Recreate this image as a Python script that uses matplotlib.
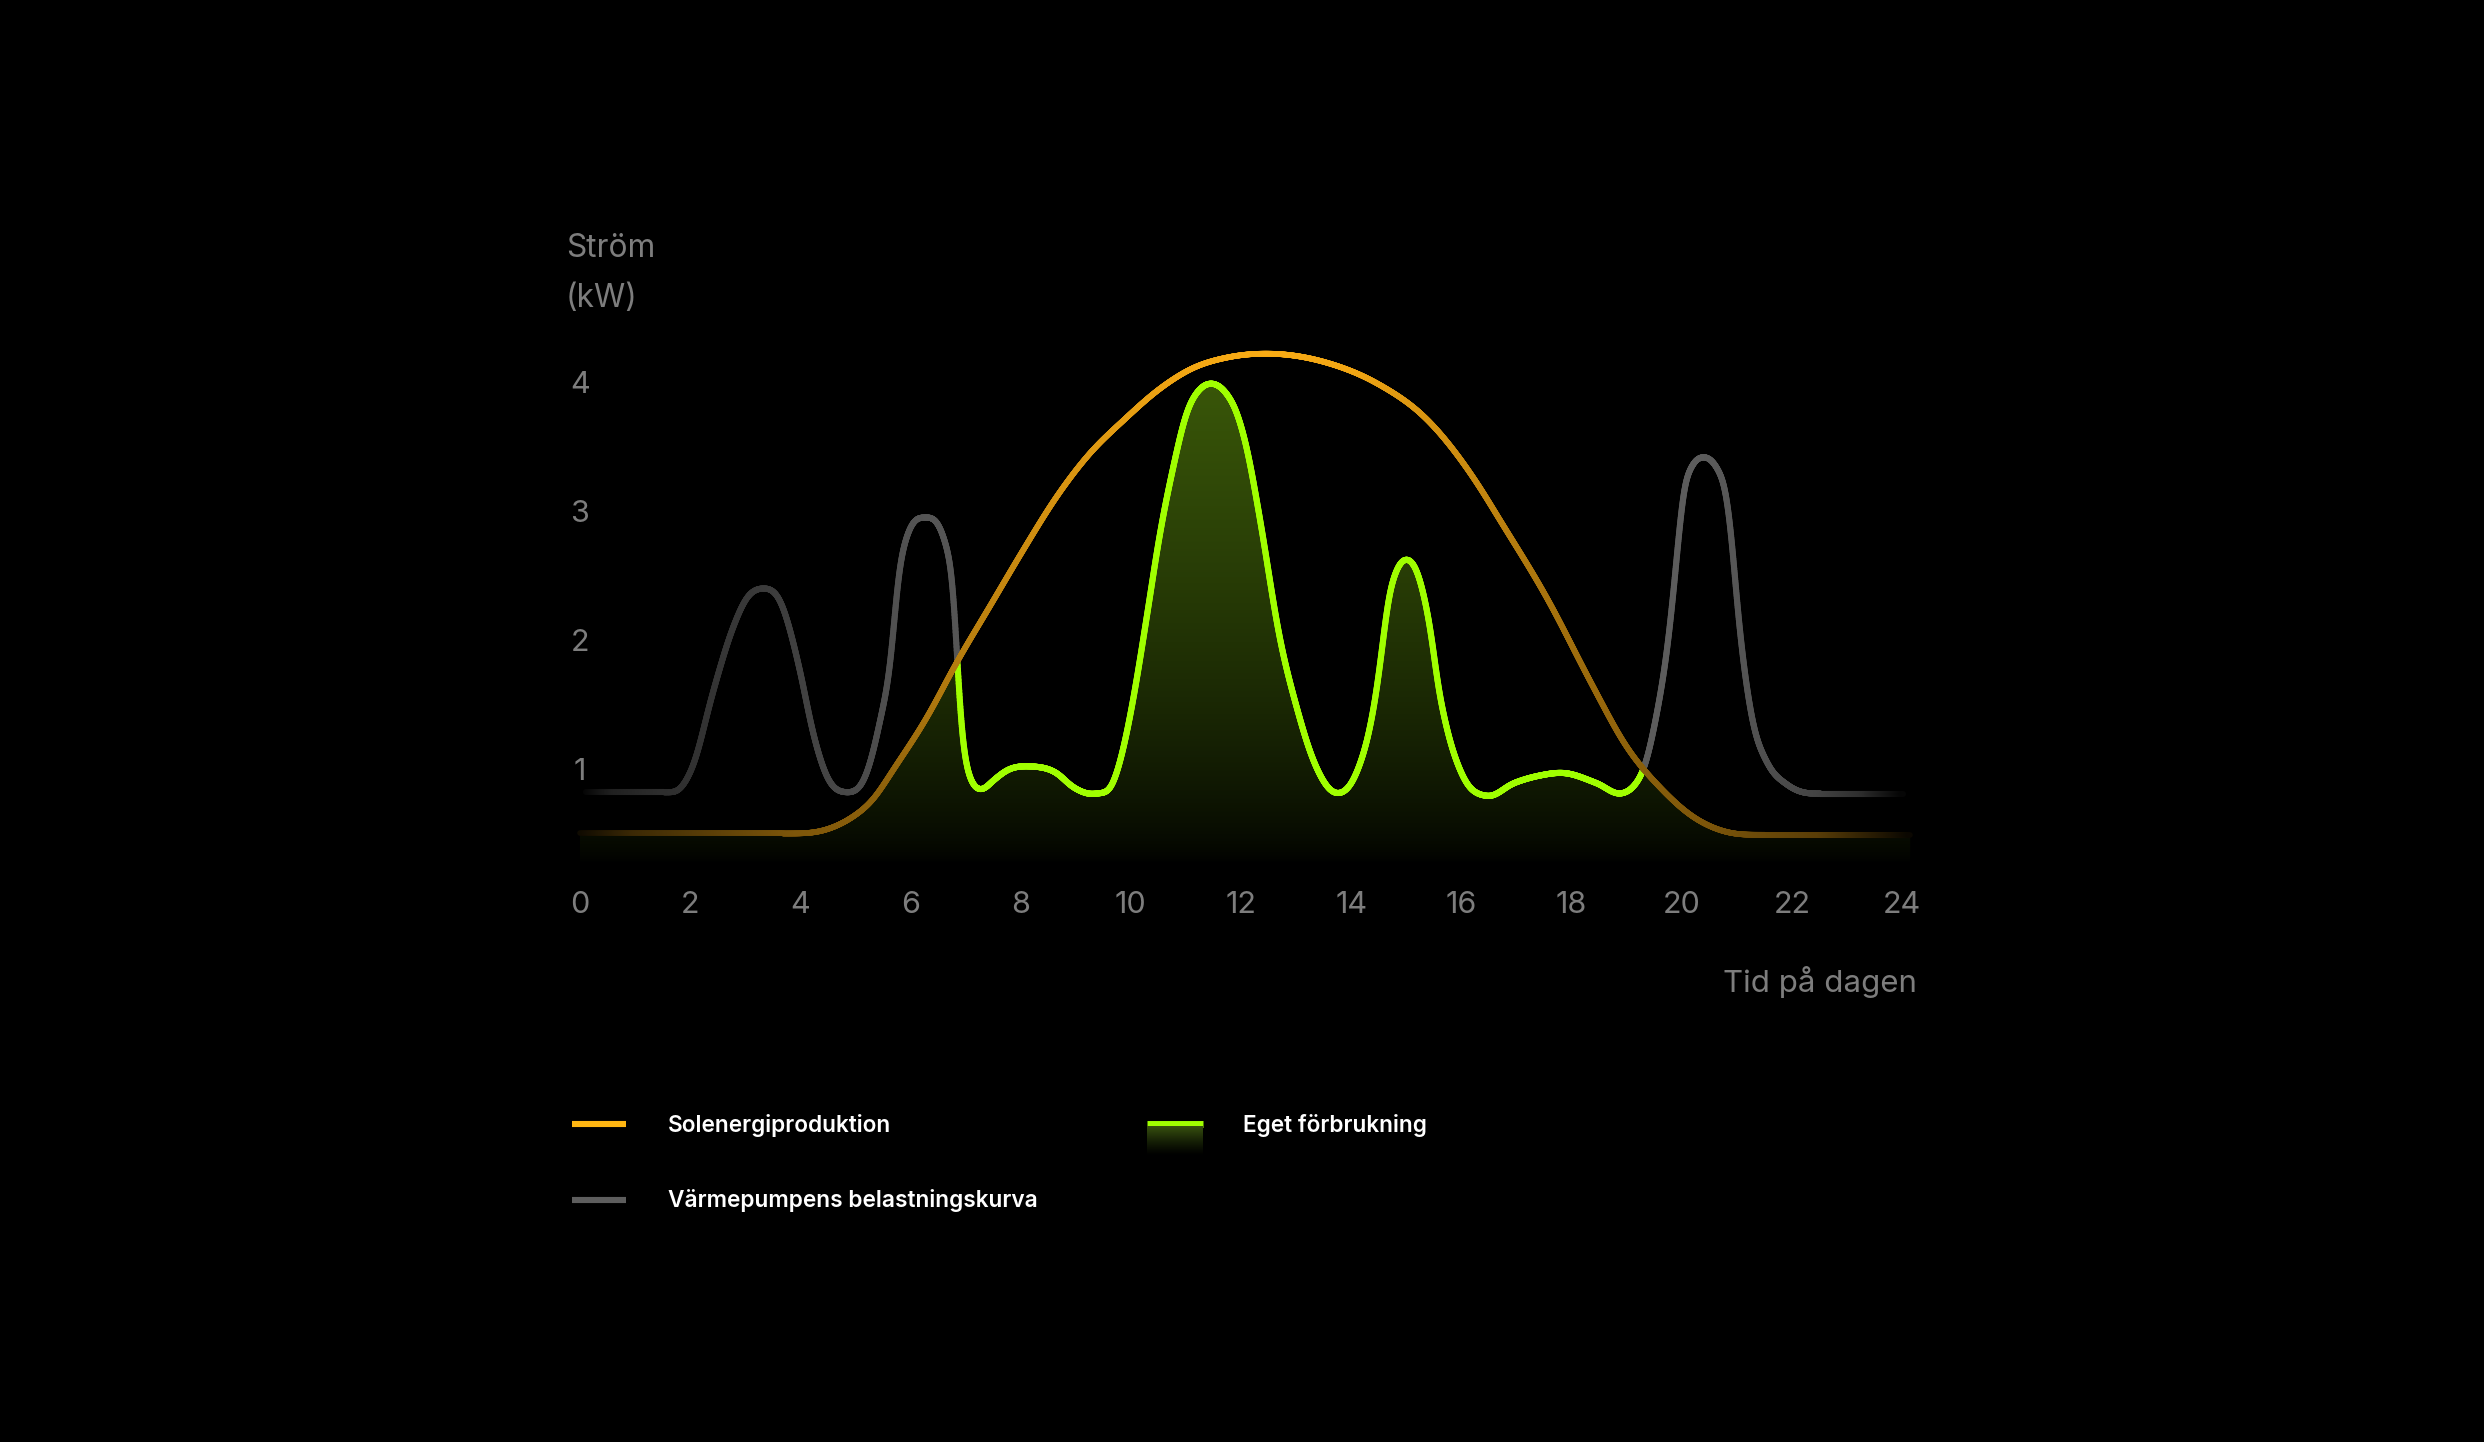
import numpy as np
import matplotlib
matplotlib.use('Agg')
import matplotlib.pyplot as plt
from matplotlib.collections import LineCollection
from matplotlib.patches import PathPatch
from matplotlib.path import Path
from matplotlib.colors import to_rgb

# Solenergiproduktion (kW)
sol_timmar = [0.0, 2.0, 3.87, 4.48, 4.96, 5.32, 5.68, 6.30, 6.83, 7.44, 8.05, 8.65,
              9.26, 9.86, 10.53, 11.13, 11.74, 12.53, 13.56, 14.47, 15.38, 16.28,
              16.70, 17.55, 18.39, 19.0, 19.6, 20.2, 20.82, 21.3, 22.5, 24.15]
sol_kw = [0.50, 0.50, 0.50, 0.53, 0.63, 0.76, 0.99, 1.40, 1.82, 2.26, 2.70, 3.11,
          3.45, 3.70, 3.95, 4.11, 4.19, 4.22, 4.15, 3.99, 3.71, 3.22,
          2.93, 2.33, 1.64, 1.17, 0.86, 0.63, 0.51, 0.49, 0.49, 0.49]

# Värmepumpens belastningskurva (kW)
last_timmar = [0.1, 1.0, 1.69, 2.05, 2.41, 2.78, 3.03, 3.30, 3.63, 3.99, 4.23, 4.48,
               4.81, 5.21, 5.45, 5.66, 5.72, 5.77, 5.85, 5.99, 6.26, 6.54, 6.68,
               6.77, 6.81, 6.84, 6.90, 6.99, 7.12, 7.30, 7.50, 7.75, 8.20, 8.65,
               8.95, 9.38, 9.68, 9.86, 10.04, 10.29, 10.53, 10.77, 11.01, 11.26,
               11.47, 11.74, 11.91, 12.10, 12.34, 12.71, 13.01, 13.31, 13.74, 14.10,
               14.38, 14.49, 14.58, 14.67, 14.80, 15.01, 15.21, 15.34, 15.47, 15.56,
               15.70, 16.03, 16.47, 16.95, 17.43, 17.85, 18.46, 18.92, 19.12, 19.33,
               19.55, 19.73, 19.85, 19.91, 19.97, 20.03, 20.15, 20.41, 20.66, 20.80,
               20.88, 20.94, 20.99, 21.10, 21.28, 21.55, 21.91, 22.39, 23.0, 24.02]
last_kw = [0.82, 0.82, 0.82, 1.02, 1.59, 2.10, 2.33, 2.40, 2.31, 1.77, 1.28, 0.94,
           0.82, 0.97, 1.38, 1.91, 2.22, 2.48, 2.68, 2.87, 2.95, 2.87, 2.68,
           2.48, 2.22, 1.91, 1.41, 1.07, 0.89, 0.84, 0.91, 0.99, 1.02, 0.97,
           0.86, 0.81, 0.89, 1.15, 1.53, 2.18, 2.83, 3.34, 3.76, 3.95,
           3.99, 3.91, 3.78, 3.50, 2.95, 2.00, 1.48, 1.07, 0.81, 0.97,
           1.40, 1.69, 2.00, 2.31, 2.52, 2.63, 2.52, 2.31, 2.00, 1.69,
           1.38, 0.94, 0.79, 0.89, 0.95, 0.97, 0.89, 0.81, 0.86, 1.02,
           1.43, 1.90, 2.36, 2.64, 2.91, 3.16, 3.32, 3.42, 3.32, 3.16,
           2.91, 2.64, 2.36, 1.90, 1.38, 1.05, 0.88, 0.81, 0.81, 0.81]

x_ticks = [0, 2, 4, 6, 8, 10, 12, 14, 16, 18, 20, 22, 24]
y_ticks = [1, 2, 3, 4]
etiketter = ['Solenergiproduktion', 'Värmepumpens belastningskurva', 'Eget förbrukning']

ORANGE = '#f9ab14'
GRON = '#a0ff00'
GRA = '#6a6a6a'
TEXTGRA = '#7d7d7d'
plt.rcParams['font.family'] = ['Inter', 'DejaVu Sans']

W, H = 2484, 1442
x0, y0 = 580, 898          # pixelläge för (0 h, 0 kW), y räknat uppifrån
px_h, px_kw = 55.083, 129.0


def fx(px):
    return px / W


def fy(py):
    return 1 - py / H


def mjuk(xs, ys, xq, sigma=0.06):
    # kubisk Hermite + lätt utjämning, bara för att rita kurvan mjukt
    xs = np.asarray(xs, float)
    ys = np.asarray(ys, float)
    h = np.diff(xs)
    d = np.diff(ys) / h
    m = np.zeros_like(ys)
    m[0], m[-1] = d[0], d[-1]
    for k in range(1, len(xs) - 1):
        if d[k - 1] == 0 or d[k] == 0:
            m[k] = 0       # plana partier ska förbli plana
        else:
            m[k] = (d[k - 1] * h[k] + d[k] * h[k - 1]) / (h[k - 1] + h[k])
    i = np.clip(np.searchsorted(xs, xq) - 1, 0, len(xs) - 2)
    t = (xq - xs[i]) / h[i]
    h00 = 2 * t**3 - 3 * t**2 + 1
    h10 = t**3 - 2 * t**2 + t
    h01 = -2 * t**3 + 3 * t**2
    h11 = t**3 - t**2
    yq = h00 * ys[i] + h10 * h[i] * m[i] + h01 * ys[i + 1] + h11 * h[i] * m[i + 1]
    inne = (xq >= xs[0]) & (xq <= xs[-1])
    dx = xq[1] - xq[0]
    r = int(4 * sigma / dx)
    k = np.exp(-0.5 * (np.arange(-r, r + 1) * dx / sigma) ** 2)
    k /= k.sum()
    y_in = np.pad(yq[inne], r, mode='edge')
    yq[inne] = np.convolve(y_in, k, mode='valid')
    yq[~inne] = np.nan
    return yq


def segment(x, y):
    p = np.column_stack([x, y])
    return np.stack([p[:-1], p[1:]], axis=1)


fig = plt.figure(figsize=(W / 100, H / 100), dpi=100, facecolor='black')
ax = fig.add_axes([0, 0, 1, 1])
ax.set_facecolor('black')
ax.axis('off')
ax.set_xlim(-x0 / px_h, (W - x0) / px_h)
ax.set_ylim(-(H - y0) / px_kw, y0 / px_kw)

xg = np.linspace(0, 24.15, 6000)
sol = mjuk(sol_timmar, sol_kw, xg, sigma=0.12)
last = mjuk(last_timmar, last_kw, xg)

# fyllning under egen förbrukning, gradient uppifrån och ner
botten = 0.26
topp = np.where(np.isnan(last), sol, np.fmin(last, sol))
verts = np.concatenate([np.column_stack([xg, topp]),
                        np.column_stack([xg[::-1], np.full_like(xg, botten)])])
klipp = PathPatch(Path(verts), facecolor='none', edgecolor='none')
ax.add_patch(klipp)
n = 256
alfa = 0.36 * np.linspace(0, 1, n) ** 0.7
bild = np.zeros((n, 1, 4))
bild[:, 0, :3] = np.array([0.66, 1.0, 0.10]) * alfa[:, None]
bild[:, 0, 3] = 1
im = ax.imshow(bild, origin='lower', aspect='auto', interpolation='bilinear',
               extent=[0, 24.15, botten, 4.35], zorder=1)
im.set_clip_path(klipp)

# belastningskurvan: grön där solen täcker, annars grå
ga = np.interp(xg, [0.1, 0.6, 1.5, 3.3, 4.8, 6.3, 20.4, 21.5, 22.5, 23.3, 24.02],
               [0.05, 0.3, 0.43, 0.55, 0.68, 0.8, 0.87, 0.75, 0.64, 0.43, 0.05])
ok = ~np.isnan(last)
xl, yl, gl = xg[ok], last[ok], ga[ok]
sl = sol[ok]
mid_last = (yl[:-1] + yl[1:]) / 2
mid_sol = (sl[:-1] + sl[1:]) / 2
mid_a = (gl[:-1] + gl[1:]) / 2
farger = np.array(to_rgb(GRA))[None, :] * mid_a[:, None]
farger[mid_last < mid_sol] = to_rgb(GRON)
lc = LineCollection(segment(xl, yl), colors=farger, linewidths=4.4,
                    capstyle='round', joinstyle='round', zorder=3)
ax.add_collection(lc)

# solkurvan, tonas ut mot kanterna
oa = np.interp(xg, [0, 1, 3.9, 5.5, 6.5, 8.5, 11, 12.5, 14, 16, 17.5, 19.2, 20.5, 22.5, 24.15],
               [0.06, 0.24, 0.5, 0.57, 0.7, 0.85, 0.97, 1.0, 0.97, 0.82, 0.68, 0.56, 0.5, 0.36, 0.04])
mid_o = (oa[:-1] + oa[1:]) / 2
ofarg = np.array(to_rgb(ORANGE))[None, :] * mid_o[:, None]
lc2 = LineCollection(segment(xg, sol), colors=ofarg, linewidths=4.1,
                     capstyle='round', joinstyle='round', zorder=4)
ax.add_collection(lc2)

# axeltexter
for t in x_ticks:
    ax.annotate(str(t), xy=(t, 0), xytext=(0, -15), textcoords='offset pixels',
                ha='center', va='baseline', color=TEXTGRA, fontsize=22)
for t in y_ticks:
    ax.annotate(str(t), xy=(0, t), xytext=(0, -11), textcoords='offset pixels',
                ha='center', va='baseline', color=TEXTGRA, fontsize=22)
fig.text(fx(566), fy(257), 'Ström', ha='left', va='baseline', color=TEXTGRA, fontsize=22.8)
fig.text(fx(566), fy(307), '(kW)', ha='left', va='baseline', color=TEXTGRA, fontsize=22.8)
fig.text(fx(1917), fy(992), 'Tid på dagen', ha='right', va='baseline', color=TEXTGRA, fontsize=22.5)

# teckenförklaring
ax.plot([fx(572), fx(626)], [fy(1124), fy(1124)], transform=ax.transAxes,
        color='#ffb612', lw=4.4, solid_capstyle='butt')
ax.plot([fx(572), fx(626)], [fy(1200), fy(1200)], transform=ax.transAxes,
        color='#5e5e5e', lw=4.4, solid_capstyle='butt')
ax.plot([fx(1147), fx(1203)], [fy(1123.5), fy(1123.5)], transform=ax.transAxes,
        color=GRON, lw=5.0, solid_capstyle='butt', zorder=6)
lax = fig.add_axes([fx(1147), fy(1156), (1203 - 1147) / W, (1156 - 1126) / H])
lax.axis('off')
g = np.linspace(0, 1, 64)
lg = np.zeros((64, 1, 3))
lg[:, 0, :] = np.array([0.22, 0.32, 0.06])[None, :] * g[:, None] ** 1.3
lax.imshow(lg, origin='lower', aspect='auto', interpolation='bilinear')

fig.text(fx(668), fy(1132), etiketter[0], color='white', fontsize=16.3, fontweight='semibold')
fig.text(fx(668), fy(1207), etiketter[1], color='white', fontsize=16.3, fontweight='semibold')
fig.text(fx(1243), fy(1132), etiketter[2], color='white', fontsize=16.3, fontweight='semibold')

fig.savefig('out.png', dpi=100, facecolor='black')
